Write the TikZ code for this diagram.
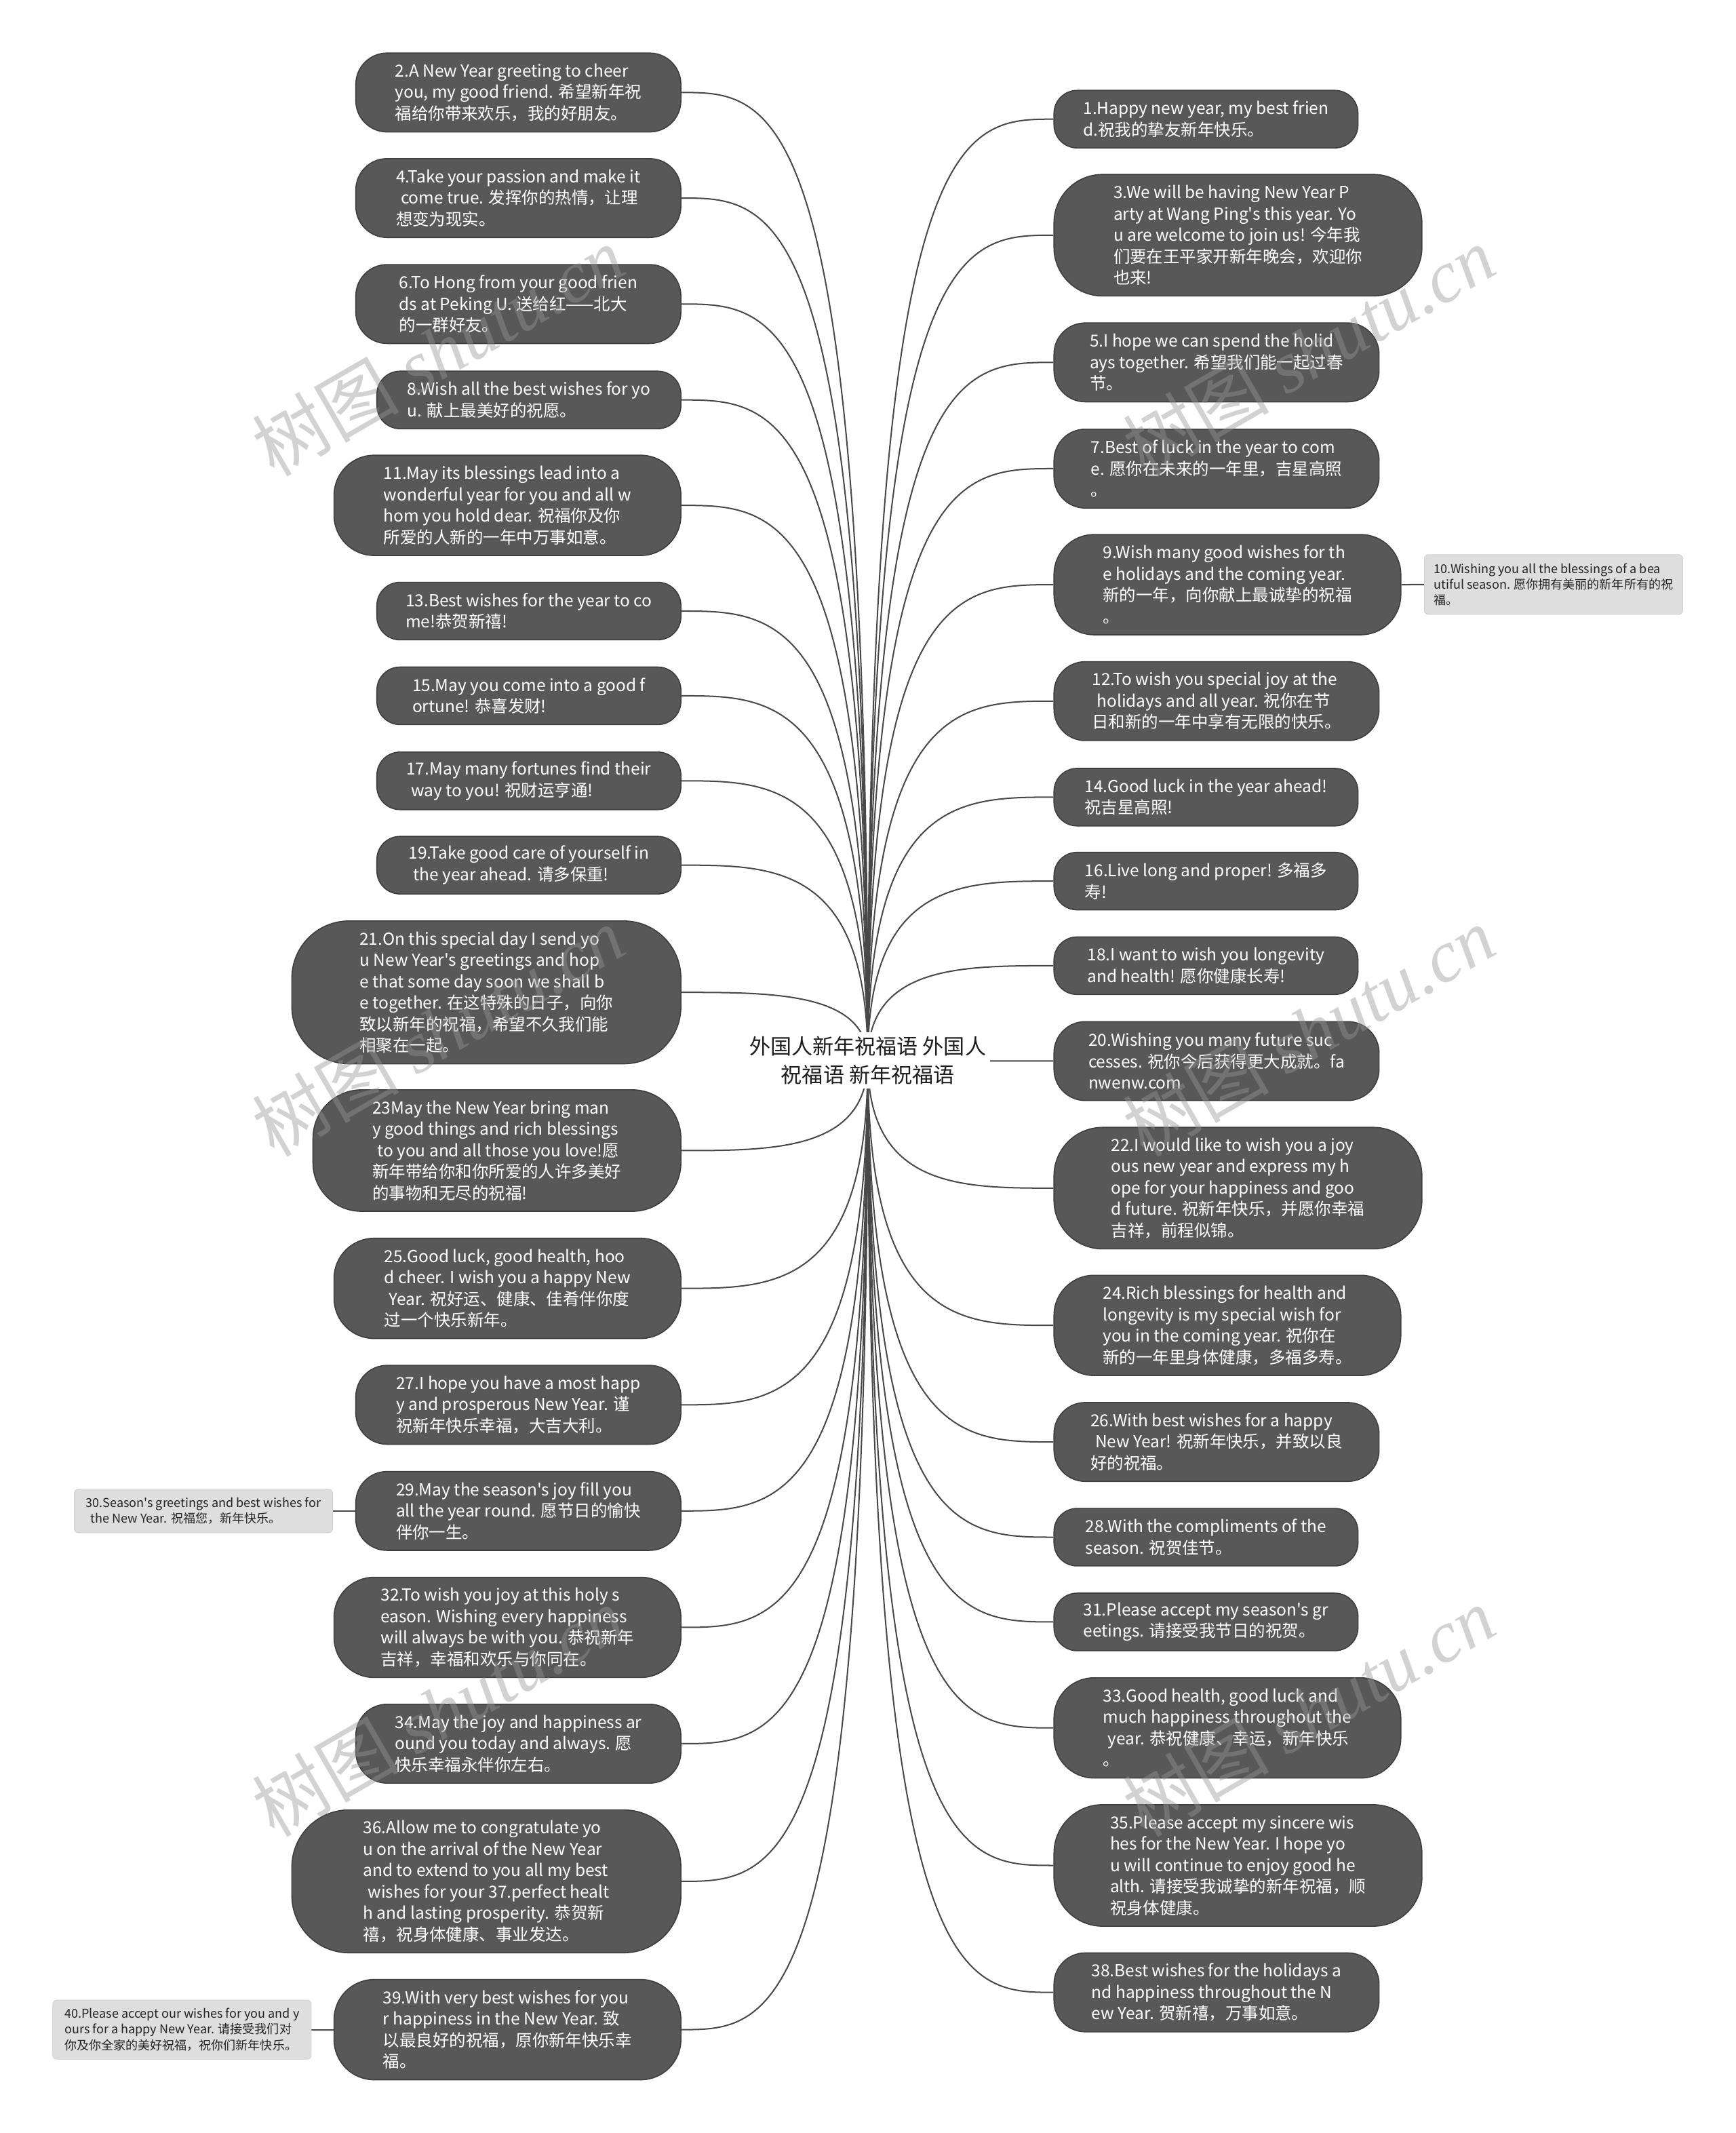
\documentclass[tikz,border=0pt]{standalone}
\usepackage{fontspec}
\setmainfont{Noto Sans CJK SC}[Ligatures=TeXOff]
\newfontfamily\wmlatin{Liberation Serif}
\usetikzlibrary{calc}
\definecolor{nodefill}{RGB}{88,88,88}
\definecolor{nodeline}{RGB}{62,62,62}
\definecolor{linkcol}{RGB}{72,72,72}
\definecolor{notefill}{RGB}{222,222,222}
\definecolor{noteline}{RGB}{208,208,208}
\definecolor{notetext}{RGB}{35,35,35}
\definecolor{maintext}{RGB}{30,30,30}
\definecolor{wmcol}{RGB}{150,150,150}
\pgfdeclarelayer{back}
\pgfdeclarelayer{bg}
\pgfsetlayers{back,bg,main}
\newcommand\ind{\hspace*{3.5pt}}
\newcommand\linkL[1]{%
  \coordinate (tmp) at (root.center |- #1.east);
  \draw[link] (root.center) .. controls (tmp) and ($(tmp)!0.5!(#1.east)$) .. (#1.east);}
\newcommand\linkR[1]{%
  \coordinate (tmp) at (root.center |- #1.west);
  \draw[link] (root.center) .. controls (tmp) and ($(tmp)!0.5!(#1.west)$) .. (#1.west);}
\tikzset{
  leaf/.style={draw=nodeline, fill=nodefill, text=white, align=left, inner sep=0pt,
    line width=0.8pt, font=\fontsize{12.2}{15.7}\selectfont},
  ltwo/.style={minimum height=42.3pt, minimum width=223.5pt, rounded corners=17pt},
  lthree/.style={minimum height=58pt, minimum width=239pt, rounded corners=23pt},
  lfour/.style={minimum height=73.7pt, minimum width=255pt, rounded corners=29.5pt},
  lfive/.style={minimum height=89.3pt, minimum width=270.5pt, rounded corners=35.7pt},
  lsix/.style={minimum height=105pt, minimum width=286pt, rounded corners=42pt},
  lside/.style={leaf, anchor=east},
  rside/.style={leaf, anchor=west},
  note/.style={fill=notefill, draw=noteline, line width=0.4pt, text=notetext, align=left,
    inner sep=0pt, rounded corners=3pt, minimum width=190pt,
    font=\fontsize{9}{11.6}\selectfont},
  rootnode/.style={fill=white, text=maintext, align=center, inner sep=3pt,
    font=\fontsize{15.5}{21}\selectfont},
  link/.style={draw=linkcol, line width=1pt},
  wmark/.style={rotate=30, text=wmcol, opacity=0.42, inner sep=0pt,
    font=\fontsize{54}{54}\selectfont}
}
\begin{document}
\begin{tikzpicture}[x=1pt, y=-1pt]
\begin{pgfonlayer}{back}
\fill[white] (0,0) rectangle (1276,1568);
\end{pgfonlayer}
\useasboundingbox (0,0) rectangle (1276,1568);

\node[rootnode] (root) at (638,779.5) {外国人新年祝福语 外国人\\祝福语 新年祝福语};

% left column
\node[lside,lthree] (n2) at (501,68) {2.A New Year greeting to cheer\\you, my good friend. 希望新年祝\\福给你带来欢乐，我的好朋友。};
\node[lside,lthree] (n4) at (501,145.6) {4.Take your passion and make it\\\ind come true. 发挥你的热情，让理\\想变为现实。};
\node[lside,lthree] (n6) at (501,223.5) {6.To Hong from your good frien\\ds at Peking U. 送给红——北大\\的一群好友。};
\node[lside,ltwo] (n8) at (501,294) {8.Wish all the best wishes for yo\\u. 献上最美好的祝愿。};
\node[lside,lfour] (n11) at (501,371.5) {11.May its blessings lead into a\\wonderful year for you and all w\\hom you hold dear. 祝福你及你\\所爱的人新的一年中万事如意。};
\node[lside,ltwo] (n13) at (501,449.2) {13.Best wishes for the year to co\\me!恭贺新禧!};
\node[lside,ltwo] (n15) at (501,511.5) {15.May you come into a good f\\ortune! 恭喜发财!};
\node[lside,ltwo] (n17) at (501,574) {17.May many fortunes find their\\\ind way to you! 祝财运亨通!};
\node[lside,ltwo] (n19) at (501,636) {19.Take good care of yourself in\\\ind the year ahead. 请多保重!};
\node[lside,lsix] (n21) at (501,729.5) {21.On this special day I send yo\\u New Year's greetings and hop\\e that some day soon we shall b\\e together. 在这特殊的日子，向你\\致以新年的祝福，希望不久我们能\\相聚在一起。};
\node[lside,lfive] (n23) at (501,845.8) {23May the New Year bring man\\y good things and rich blessings\\\ind to you and all those you love!愿\\新年带给你和你所爱的人许多美好\\的事物和无尽的祝福!};
\node[lside,lfour] (n25) at (501,947.1) {25.Good luck, good health, hoo\\d cheer. I wish you a happy New\\\ind Year. 祝好运、健康、佳肴伴你度\\过一个快乐新年。};
\node[lside,lthree] (n27) at (501,1032.7) {27.I hope you have a most happ\\y and prosperous New Year. 谨\\祝新年快乐幸福，大吉大利。};
\node[lside,lthree] (n29) at (501,1110.7) {29.May the season's joy fill you\\all the year round. 愿节日的愉快\\伴你一生。};
\node[lside,lfour] (n32) at (501,1196.3) {32.To wish you joy at this holy s\\eason. Wishing every happiness\\will always be with you. 恭祝新年\\吉祥，幸福和欢乐与你同在。};
\node[lside,lthree] (n34) at (501,1281.8) {34.May the joy and happiness ar\\ound you today and always. 愿\\快乐幸福永伴你左右。};
\node[lside,lsix] (n36) at (501,1383) {36.Allow me to congratulate yo\\u on the arrival of the New Year\\and to extend to you all my best\\\ind wishes for your 37.perfect healt\\h and lasting prosperity. 恭贺新\\禧，祝身体健康、事业发达。};
\node[lside,lfour] (n39) at (501,1492) {39.With very best wishes for you\\r happiness in the New Year. 致\\以最良好的祝福，原你新年快乐幸\\福。};

% right column
\node[rside,ltwo] (n1) at (774.5,87.6) {1.Happy new year, my best frien\\d.祝我的挚友新年快乐。};
\node[rside,lfive] (n3) at (774.5,172.9) {3.We will be having New Year P\\arty at Wang Ping's this year. Yo\\u are welcome to join us! 今年我\\们要在王平家开新年晚会，欢迎你\\也来!};
\node[rside,lthree] (n5) at (774.5,266.4) {5.I hope we can spend the holid\\ays together. 希望我们能一起过春\\节。};
\node[rside,lthree] (n7) at (774.5,344.5) {7.Best of luck in the year to com\\e. 愿你在未来的一年里，吉星高照\\。};
\node[rside,lfour] (n9) at (774.5,429.8) {9.Wish many good wishes for th\\e holidays and the coming year.\\新的一年，向你献上最诚挚的祝福\\。};
\node[rside,lthree] (n12) at (774.5,515.4) {12.To wish you special joy at the\\\ind holidays and all year. 祝你在节\\日和新的一年中享有无限的快乐。};
\node[rside,ltwo] (n14) at (774.5,586) {14.Good luck in the year ahead!\\祝吉星高照!};
\node[rside,ltwo] (n16) at (774.5,647.7) {16.Live long and proper! 多福多\\寿!};
\node[rside,ltwo] (n18) at (774.5,709.9) {18.I want to wish you longevity\\and health! 愿你健康长寿!};
\node[rside,lthree] (n20) at (774.5,780) {20.Wishing you many future suc\\cesses. 祝你今后获得更大成就。fa\\nwenw.com};
\node[rside,lfive] (n22) at (774.5,873.4) {22.I would like to wish you a joy\\ous new year and express my h\\ope for your happiness and goo\\d future. 祝新年快乐，并愿你幸福\\吉祥，前程似锦。};
\node[rside,lfour] (n24) at (774.5,974.3) {24.Rich blessings for health and\\longevity is my special wish for\\you in the coming year. 祝你在\\新的一年里身体健康，多福多寿。};
\node[rside,lthree] (n26) at (774.5,1060) {26.With best wishes for a happy\\\ind New Year! 祝新年快乐，并致以良\\好的祝福。};
\node[rside,ltwo] (n28) at (774.5,1130) {28.With the compliments of the\\season. 祝贺佳节。};
\node[rside,ltwo] (n31) at (774.5,1192.3) {31.Please accept my season's gr\\eetings. 请接受我节日的祝贺。};
\node[rside,lfour] (n33) at (774.5,1270.2) {33.Good health, good luck and\\much happiness throughout the\\\ind year. 恭祝健康、幸运，新年快乐\\。};
\node[rside,lfive] (n35) at (774.5,1371.3) {35.Please accept my sincere wis\\hes for the New Year. I hope yo\\u will continue to enjoy good he\\alth. 请接受我诚挚的新年祝福，顺\\祝身体健康。};
\node[rside,lthree] (n38) at (774.5,1464.6) {38.Best wishes for the holidays a\\nd happiness throughout the N\\ew Year. 贺新禧，万事如意。};

% side notes
\node[note, minimum height=44pt, anchor=west] (n10) at (1047,429.7) {10.Wishing you all the blessings of a bea\\utiful season. 愿你拥有美丽的新年所有的祝\\福。};
\node[note, minimum height=32pt, anchor=east] (n30) at (244.8,1110.7) {30.Season's greetings and best wishes for\\\ind the New Year. 祝福您，新年快乐。};
\node[note, minimum height=43.5pt, anchor=east] (n40) at (229,1492) {40.Please accept our wishes for you and y\\ours for a happy New Year. 请接受我们对\\你及你全家的美好祝福，祝你们新年快乐。};

\begin{pgfonlayer}{bg}
\foreach \n in {n2,n4,n6,n8,n11,n13,n15,n17,n19,n21,n23,n25,n27,n29,n32,n34,n36,n39}{\linkL{\n}}
\foreach \n in {n1,n3,n5,n7,n9,n12,n14,n16,n18,n20,n22,n24,n26,n28,n31,n33,n35,n38}{\linkR{\n}}
\draw[link] (n9.east) -- (n10.west);
\draw[link] (n29.west) -- (n30.east);
\draw[link] (n39.west) -- (n40.east);
\end{pgfonlayer}

% watermarks
\foreach \wy in {258,758,1258}{
  \node[wmark] (wl\wy) at (322,\wy) {树图 {\wmlatin\itshape shutu.cn}};
  \node[wmark] (wr\wy) at (962,\wy) {树图 {\wmlatin\itshape shutu.cn}};
}
\end{tikzpicture}
\end{document}
